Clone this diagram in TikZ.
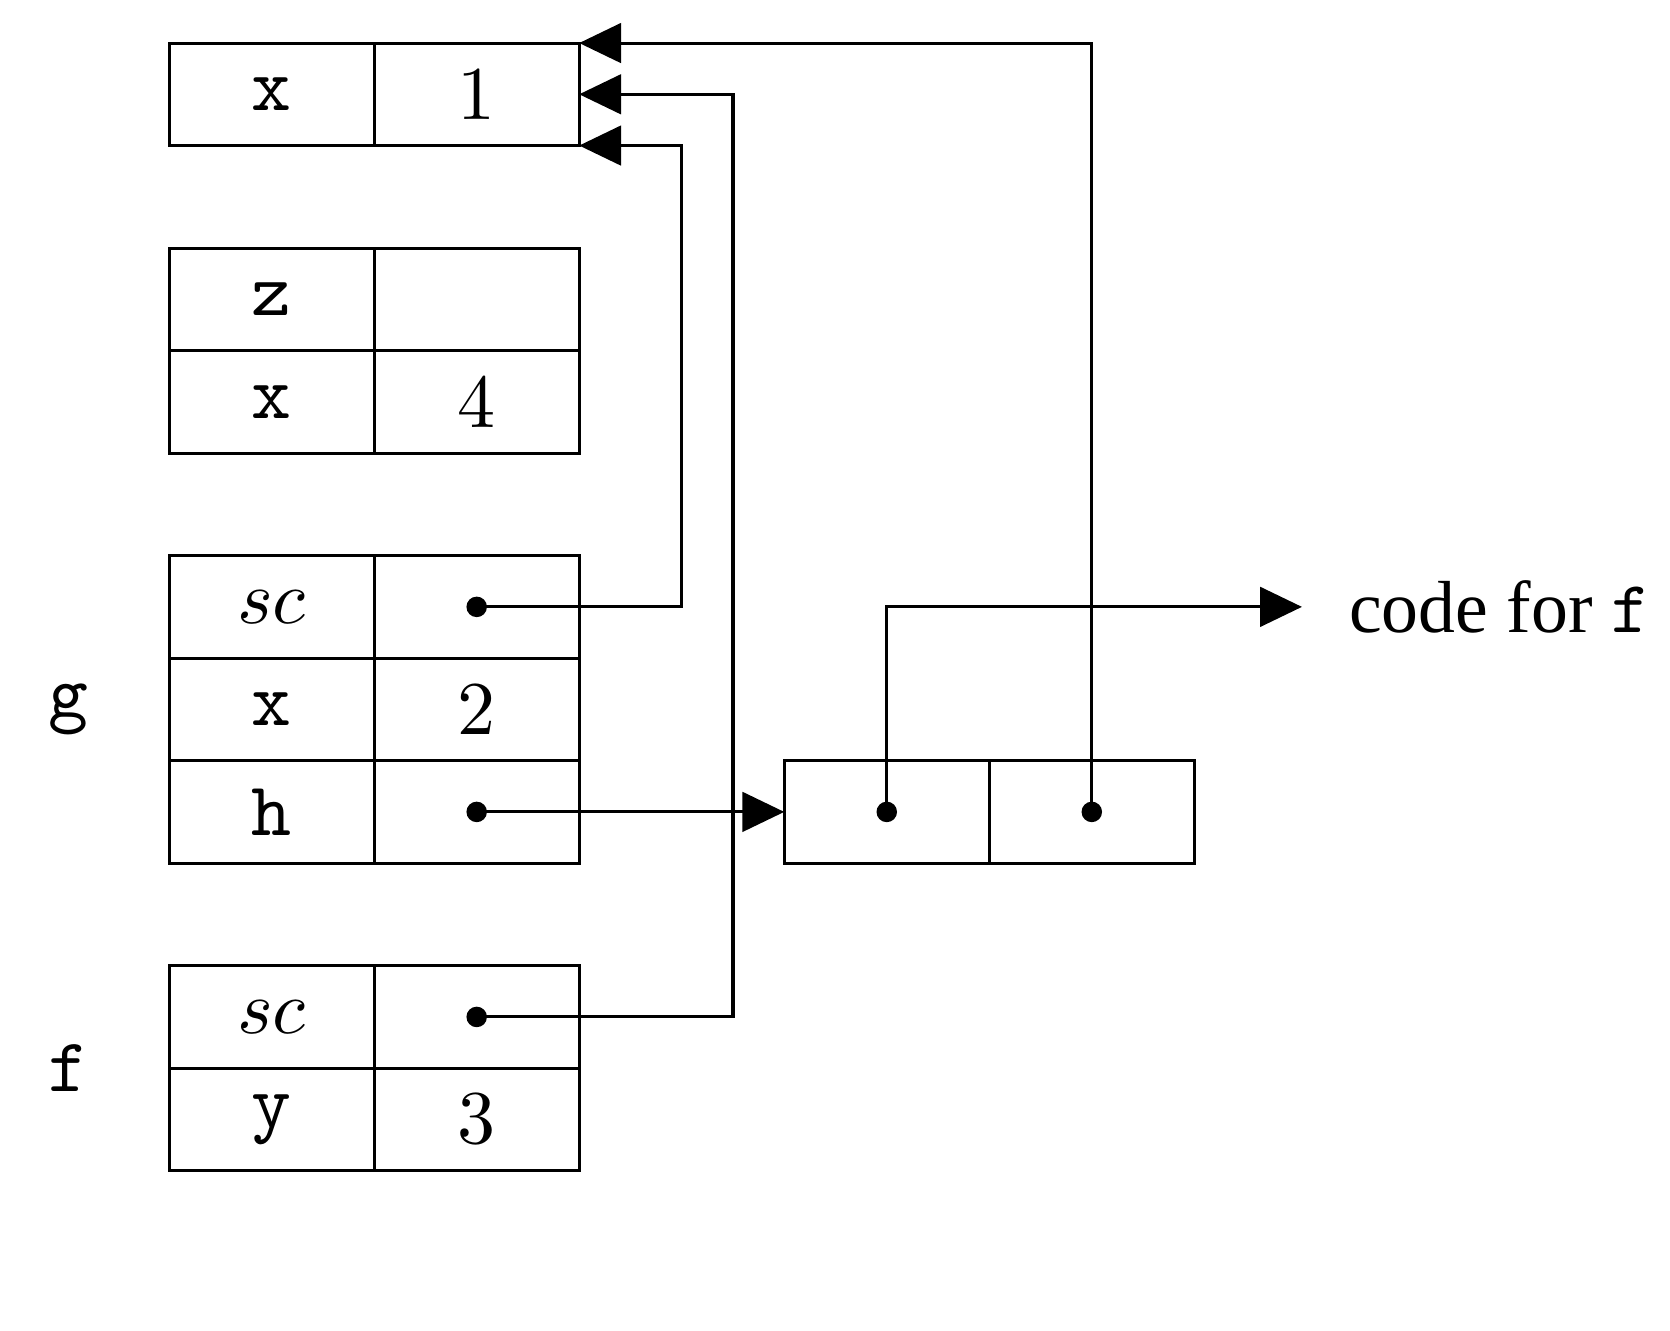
\documentclass[tikz,border=0pt]{standalone}
\usepackage{fontspec}
\newfontfamily\timesfont{Liberation Serif}
\usepackage{tikz}
\usetikzlibrary{arrows.meta}

\begin{document}
\begin{tikzpicture}[x=0.474cm, y=0.474cm,
    > = {Triangle[length=5.5pt, width=5.2pt]},
    cell/.style={draw, rectangle, minimum width=0.948cm, minimum height=0.474cm, inner sep=0pt, outer sep=0pt}]
    \useasboundingbox (-1.65,0.42) rectangle (14.64,-12.56);

    \node[cell] (TopX) at (1,-0.5) {\texttt{x}};
    \node[cell] (TopXVal) at (3,-0.5) {1};

    \node[cell] (MidZ) at (1,-2.5) {\texttt{z}};
    \node[cell] (MidZVal) at (3,-2.5) {};
    \node[cell] (MidX) at (1,-3.5) {\texttt{x}};
    \node[cell] (MidXVal) at (3,-3.5) {4};

    \node[cell] (GSc) at (1,-5.5) {$sc$};
    \node[cell] (GScVal) at (3,-5.5) {};
    \node[cell] (GX) at (1,-6.5) {\texttt{x}};
    \node[cell] (GXVal) at (3,-6.5) {2};
    \node[cell] (GH) at (1,-7.5) {\texttt{h}};
    \node[cell] (GHVal) at (3,-7.5) {};
    \node (GName) at (-0.98,-6.5) {\texttt{g}};

    \node[cell] (FSc) at (1,-9.5) {$sc$};
    \node[cell] (FScVal) at (3,-9.5) {};
    \node[cell] (FY) at (1,-10.5) {\texttt{y}};
    \node[cell] (FYVal) at (3,-10.5) {3};
    \node (FName) at (-0.98,-10) {\texttt{f}};

    % closure for h
    \node[cell] (ClosCode) at (7,-7.5) {};
    \node[cell] (ClosEnv) at (9,-7.5) {};
    \node[anchor=west, inner xsep=6pt] (Code) at (11.05,-5.5)
        {\fontsize{9.7pt}{11pt}\selectfont\timesfont code for \texttt{f}};

    \foreach \c in {GScVal, GHVal, FScVal, ClosCode, ClosEnv}
        \fill (\c.center) circle (1.35pt);

    \draw[->] (GScVal.center) -- ++(2,0) |- (TopXVal.south east);
    \draw[->] (FScVal.center) -- ++(2.5,0) |- (TopXVal.east);
    \draw[->] (ClosEnv.center) |- (TopXVal.north east);
    \draw[->] (GHVal.center) -- (ClosCode.west);
    \draw[->] (ClosCode.center) |- (Code.west);
\end{tikzpicture}
\end{document}
